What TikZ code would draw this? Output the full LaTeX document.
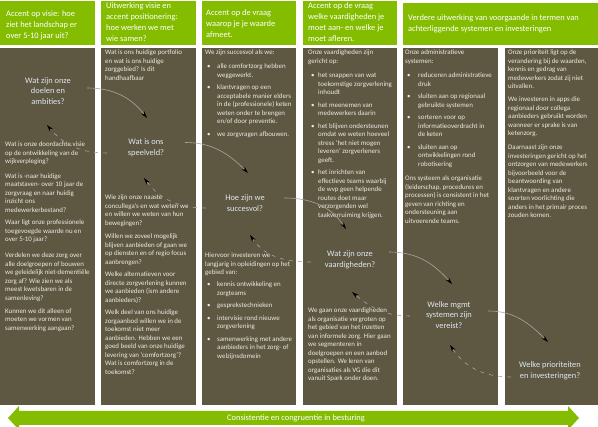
\documentclass[tikz,border=0pt]{standalone}
\usepackage{fontspec}
\setmainfont{Carlito}
\usetikzlibrary{arrows.meta,calc}

\definecolor{balkgroen}{RGB}{132,189,0}
\definecolor{vakbruin}{RGB}{94,87,65}
\definecolor{vraagblauw}{RGB}{222,232,242}
\definecolor{tekstgrijs}{RGB}{236,236,230}
\definecolor{lijngrijs}{RGB}{165,165,165}

\begin{document}
\begin{tikzpicture}[x=1pt,y=1pt,
    kop/.style={fill=balkgroen},
    vak/.style={fill=vakbruin},
    koptxt/.style={anchor=north west,inner sep=0pt,align=left,text=white,font=\fontsize{8.4}{11}\selectfont},
    bodytxt/.style={anchor=north west,inner sep=0pt,align=left,text=tekstgrijs,font=\fontsize{6.9}{8.5}\selectfont},
    vraag/.style={align=center,minimum width=78pt,inner sep=1pt,text=vraagblauw,font=\fontsize{8.4}{10.5}\selectfont},
    heen/.style={draw=lijngrijs,line width=0.6pt,-{Stealth[length=7pt,width=4pt,black]}},
    terug/.style={heen,dash pattern=on 4pt off 5pt}]

        \useasboundingbox (0,0) rectangle (598,427);

        % Koppen
        \fill[kop] (0,382) rectangle (95,426);
        \fill[kop] (101,382) rectangle (195.5,426);
        \fill[kop] (202,382) rectangle (295.5,426);
        \fill[kop] (303,382) rectangle (397,426);
        \fill[kop] (403,382) rectangle (598,424);

        % Vakken
        \fill[vak] (0,22) rectangle (95,379);
        \fill[vak] (101,22) rectangle (195.5,379);
        \fill[vak] (202,22) rectangle (295.5,379);
        \fill[vak] (303,22) rectangle (397,379);
        \fill[vak] (403,22) rectangle (498,379);
        \fill[vak] (504.5,22) rectangle (598,379);

        % Koptekst
        \node[koptxt] (k1) at (6,417) {Accent op visie: hoe\\ziet het landschap er\\over 5-10 jaar uit?};
        \node[koptxt] (k2) at (106,424.3) {Uitwerking visie en\\accent positionering:\\hoe werken we met\\wie samen?};
        \node[koptxt] (k3) at (206,417.7) {Accent op de vraag\\waarop je je waarde\\afmeet.};
        \node[koptxt] (k4) at (308,424.3) {Accent op de vraag\\welke vaardigheden je\\moet aan- en welke je\\moet afleren.};
        \node[koptxt] (k5) at (408,412.7) {Verdere uitwerking van voorgaande in termen van\\achterliggende systemen en investeringen};

        % Vragen
        \node[vraag] (doel) at (48,336) {Wat zijn onze\\doelen en\\ambities?};
        \node[vraag] (speel) at (146,279) {Wat is ons\\speelveld?};
        \node[vraag] (succes) at (245,224) {Hoe zijn we\\succesvol?};
        \node[vraag] (vaard) at (350,167) {Wat zijn onze\\vaardigheden?};
        \node[vraag] (mgmt) at (449,112) {Welke mgmt\\systemen zijn\\vereist?};
        \node[vraag] (prior) at (550,56) {Welke prioriteiten\\en investeringen?};

        % Kolom 1
        \node[bodytxt] (v1a) at (5,285.3) {Wat is onze doordachte visie\\op de ontwikkeling van de\\wijkverpleging?};
        \node[bodytxt] (v1b) at (5,253.6) {Wat is -naar huidige\\maatstaven- over 10 jaar de\\zorgvraag en naar huidig\\inzicht ons\\medewerkerbestand?};
        \node[bodytxt] (v1c) at (5,207) {Waar ligt onze professionele\\toegevoegde waarde nu en\\over 5-10 jaar?};
        \node[bodytxt] (v1d) at (5,174.3) {Verdelen we deze zorg over\\alle doelgroepen of bouwen\\we geleidelijk niet-dementiële\\zorg af? Wie zien we als\\meest kwetsbaren in de\\samenleving?};
        \node[bodytxt] (v1e) at (5,118.6) {Kunnen we dit alleen of\\moeten we vormen van\\samenwerking aangaan?};

        % Kolom 2
        \node[bodytxt] (v2a) at (105,377.3) {Wat is ons huidige portfolio\\en wat is ons huidige\\zorggebied? Is dit\\handhaafbaar};
        \node[bodytxt] (v2b) at (105,232) {Wie zijn onze naaste\\concullega's en wat weten we\\en willen we weten van hun\\bewegingen?};
        \node[bodytxt] (v2c) at (105,193) {Willen we zoveel mogelijk\\blijven aanbieden of gaan we\\op diensten en of regio focus\\aanbrengen?};
        \node[bodytxt] (v2d) at (105,155.3) {Welke alternatieven voor\\directe zorgverlening kunnen\\we aanbieden (ism andere\\aanbieders)?};
        \node[bodytxt] (v2e) at (105,117) {Welk deel van ons huidige\\zorgaanbod willen we in de\\toekomst niet meer\\aanbieden. Hebben we een\\goed beeld van onze huidige\\levering van `comfortzorg'?\\Wat is comfortzorg in de\\toekomst?};

        % Kolom 3
        \node[bodytxt] (v3a) at (205,377.3) {We zijn succesvol als we:};
        \node[bodytxt] (v3b) at (207,364.4) {\begin{tabular}{@{}p{10pt}@{}l@{}}
            \textbullet & alle comfortzorg hebben\\ & weggewerkt.\\[4pt]
            \textbullet & klantvragen op een\\ & acceptabele manier elders\\ & in de (professionele) keten\\ & weten onder te brengen\\ & en/of door preventie.\\[4pt]
            \textbullet & we zorgvragen afbouwen.
        \end{tabular}};
        \node[bodytxt] (v3c) at (205,174.3) {Hiervoor investeren we\\langjarig in opleidingen op het\\gebied van:};
        \node[bodytxt] (v3d) at (207,146.4) {\begin{tabular}{@{}p{10pt}@{}l@{}}
            \textbullet & kennis ontwikkeling en\\ & zorgteams\\[4pt]
            \textbullet & gesprekstechnieken\\[4pt]
            \textbullet & intervisie rond nieuwe\\ & zorgverlening\\[4pt]
            \textbullet & samenwerking met andere\\ & aanbieders in het zorg- of\\ & welzijnsdomein
        \end{tabular}};

        % Kolom 4
        \node[bodytxt] (v4a) at (308,377.3) {Onze vaardigheden zijn\\gericht op:};
        \node[bodytxt] (v4b) at (311,355.4) {\begin{tabular}{@{}p{7pt}@{}l@{}}
            \textbullet & het snappen van wat\\ & toekomstige zorgverlening\\ & inhoudt\\[4pt]
            \textbullet & het meenemen van\\ & medewerkers daarin\\[4pt]
            \textbullet & het blijven ondersteunen\\ & omdat we weten hoeveel\\ & stress `het niet mogen\\ & leveren' zorgverleners\\ & geeft.\\[4pt]
            \textbullet & het inrichten van\\ & effectieve teams waarbij\\ & de wvp geen helpende\\ & routes doet maar\\ & verzorgenden wel\\ & taakverruiming krijgen.
        \end{tabular}};
        \node[bodytxt] (v4c) at (308,119.3) {We gaan onze vaardigheden\\als organisatie vergroten op\\het gebied van het inzetten\\van informele zorg. Hier gaan\\we segmenteren in\\doelgroepen en een aanbod\\opstellen. We leren van\\organisaties als VG die dit\\vanuit Spark onder doen.};

        % Kolom 5
        \node[bodytxt] (v5a) at (405,377.3) {Onze administratieve\\systemen:};
        \node[bodytxt] (v5b) at (407,355.4) {\begin{tabular}{@{}p{11pt}@{}l@{}}
            \textbullet & reduceren administratieve\\ & druk\\[4pt]
            \textbullet & sluiten aan op regionaal\\ & gebruikte systemen\\[4pt]
            \textbullet & sorteren voor op\\ & informatieoverdracht in\\ & de keten\\[4pt]
            \textbullet & sluiten aan op\\ & ontwikkelingen rond\\ & robotisering
        \end{tabular}};
        \node[bodytxt] (v5c) at (405,251.3) {Ons systeem als organisatie\\(leiderschap, procedures en\\processen) is consistent in het\\geven van richting en\\ondersteuning aan\\uitvoerende teams.};

        % Kolom 6
        \node[bodytxt] (v6a) at (508,377.3) {Onze prioriteit ligt op de\\verandering bij de waarden,\\kennis en gedrag van\\medewerkers zodat zij niet\\uitvallen.};
        \node[bodytxt] (v6b) at (508,330.3) {We investeren in apps die\\regionaal door collega\\aanbieders gebruikt worden\\wanneer er sprake is van\\ketenzorg.};
        \node[bodytxt] (v6c) at (508,282.3) {Daarnaast zijn onze\\investeringen gericht op het\\ontzorgen van medewerkers\\bijvoorbeeld voor de\\beantwoording van\\klantvragen en andere\\soorten voorlichting die\\anders in het primair proces\\zouden komen.};

        % Heen
        \draw[heen] ([yshift=3pt]doel.east) to[out=0,in=128] ([shift={(1pt,30pt)}]speel.center);
        \draw[heen] ([yshift=5.5pt]speel.east) to[out=0,in=135] ([shift={(3pt,30pt)}]succes.center);
        \draw[heen] ([yshift=5pt]succes.east) to[out=0,in=124] ([shift={(-4pt,31pt)}]vaard.center);
        \draw[heen] ([yshift=8pt]vaard.east) to[out=0,in=132] ([shift={(3pt,31pt)}]mgmt.center);
        \draw[heen] ([yshift=4pt]mgmt.east) to[out=0,in=135] ([shift={(-2pt,29pt)}]prior.center);

        % Terug
        \draw[terug] ([yshift=-6pt]prior.west) to[out=180,in=-56] ([shift={(1pt,-30pt)}]mgmt.center);
        \draw[terug] ([yshift=-1pt]mgmt.west) to[out=180,in=-40] ([shift={(2pt,-32pt)}]vaard.center);
        \draw[terug] ([yshift=-2pt]vaard.west) to[out=180,in=-56] ([shift={(5pt,-32pt)}]succes.center);
        \draw[terug] ([yshift=-5pt]succes.west) to[out=180,in=-53] ([shift={(-2pt,-30pt)}]speel.center);
        \draw[terug] ([yshift=-5pt]speel.west) to[out=180,in=-50] ([shift={(-1pt,-34pt)}]doel.center);

        % Besturing
        \fill[balkgroen] (8,9) -- (19,21) -- (19,16) -- (568,16) -- (568,21) -- (579,9)
            -- (568,-3) -- (568,2) -- (19,2) -- (19,-3) -- cycle;
        \node[text=white,font=\fontsize{8.4}{10}\selectfont] (besturing) at (296,9) {Consistentie en congruentie in besturing};

    \end{tikzpicture}
\end{document}
